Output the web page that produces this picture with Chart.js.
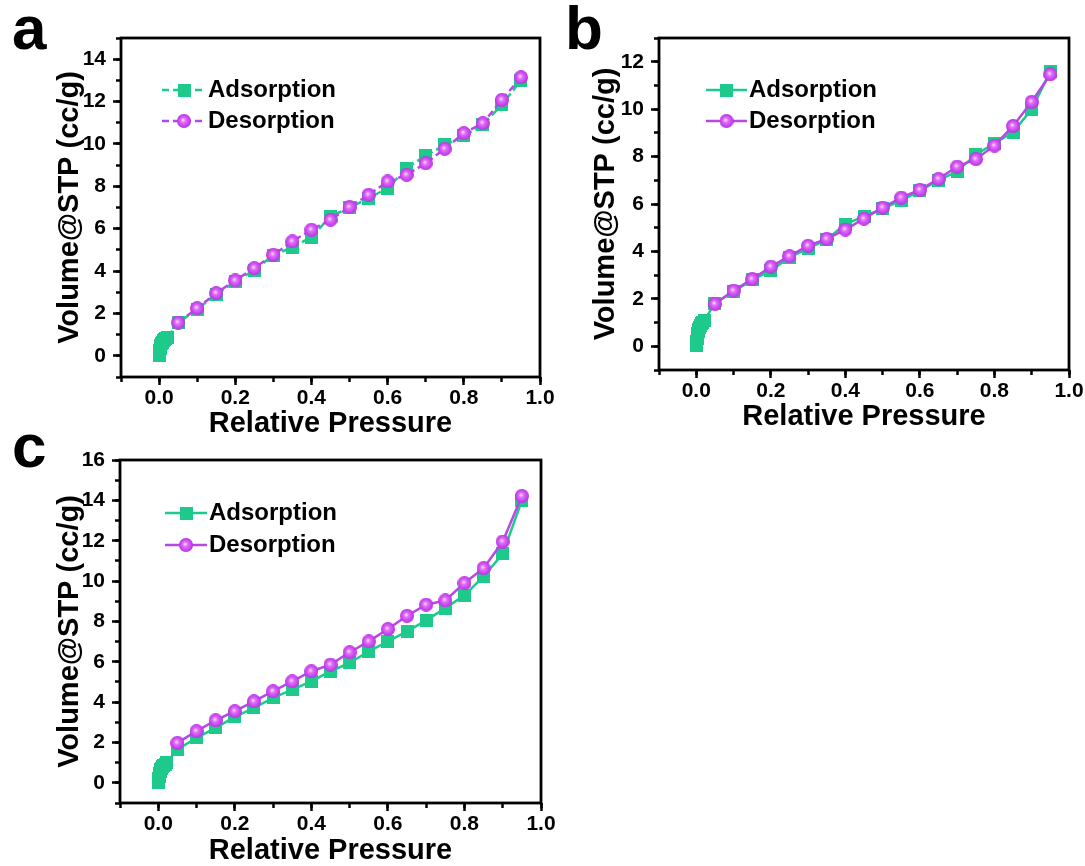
<!DOCTYPE html>
<html>
<head>
<meta charset="utf-8">
<title>N2 isotherms</title>
<script src="https://cdn.jsdelivr.net/npm/chart.js@4.4.1/dist/chart.umd.min.js"></script>
<style>
  body { margin: 0; background: #fff; }
  #wrap { position: relative; width: 1085px; height: 866px; overflow: hidden; }
  canvas { position: absolute; }
  .tag { position: absolute; font: bold 62px "Liberation Sans", Arial, sans-serif; line-height: 62px; color: #000; }
</style>
</head>
<body>
<div id="wrap">
  <canvas id="chartA" width="560" height="445" style="left:0;top:0"></canvas>
  <canvas id="chartB" width="525" height="445" style="left:560px;top:0"></canvas>
  <canvas id="chartC" width="560" height="436" style="left:0;top:430px"></canvas>
  <div class="tag" style="left:12px;top:-3px">a</div>
  <div class="tag" style="left:565px;top:-3px">b</div>
  <div class="tag" style="left:12px;top:415px">c</div>
</div>
<script>
// relative pressure P/P0 - the low range is only measured on adsorption
const pLow = [0.0005, 0.001, 0.0015, 0.002, 0.003, 0.004, 0.005, 0.007, 0.009, 0.011, 0.014, 0.018, 0.022];
const pHigh = [0.05, 0.10, 0.15, 0.20, 0.25, 0.30, 0.35, 0.40, 0.45, 0.50,
               0.55, 0.60, 0.65, 0.70, 0.75, 0.80, 0.85, 0.90, 0.95];

// volume @ STP (cc/g)
const adsLowA = [0.02, 0.10, 0.18, 0.26, 0.34, 0.42, 0.50, 0.57, 0.64, 0.70, 0.76, 0.82, 0.88];
const adsA = [1.55, 2.20, 2.90, 3.50, 4.05, 4.75, 5.13, 5.60, 6.58, 7.00, 7.44, 7.91, 8.86, 9.45, 9.95, 10.38, 10.90, 11.85, 13.00];
const desA = [1.57, 2.25, 2.96, 3.56, 4.14, 4.77, 5.40, 5.95, 6.42, 7.02, 7.60, 8.23, 8.54, 9.09, 9.77, 10.51, 10.98, 12.08, 13.15];

const adsLowB = [0.02, 0.12, 0.22, 0.32, 0.42, 0.52, 0.62, 0.70, 0.78, 0.86, 0.94, 1.02, 1.10];
const adsB = [1.82, 2.30, 2.80, 3.19, 3.75, 4.13, 4.50, 5.15, 5.48, 5.80, 6.15, 6.55, 7.00, 7.38, 8.08, 8.56, 9.02, 10.00, 11.58];
const desB = [1.79, 2.35, 2.83, 3.36, 3.80, 4.24, 4.53, 4.92, 5.38, 5.85, 6.27, 6.60, 7.06, 7.58, 7.89, 8.46, 9.29, 10.31, 11.47];

const adsLowC = [0.02, 0.11, 0.20, 0.29, 0.38, 0.47, 0.56, 0.64, 0.72, 0.80, 0.87, 0.93, 1.00];
const adsC = [1.65, 2.23, 2.72, 3.27, 3.71, 4.21, 4.62, 5.03, 5.53, 5.94, 6.52, 7.01, 7.51, 8.05, 8.66, 9.29, 10.23, 11.35, 13.99];
const desC = [1.98, 2.56, 3.10, 3.55, 4.04, 4.54, 5.03, 5.53, 5.86, 6.47, 7.01, 7.62, 8.28, 8.83, 9.04, 9.90, 10.64, 11.96, 14.22];

// tick labels
const xTicks = [0, 0.2, 0.4, 0.6, 0.8, 1.0];
const xMinorTicks = [-0.1, 0, 0.1, 0.2, 0.3, 0.4, 0.5, 0.6, 0.7, 0.8, 0.9, 1.0];
const yTicksA = [0, 2, 4, 6, 8, 10, 12, 14];
const yTicksB = [0, 2, 4, 6, 8, 10, 12];
const yTicksC = [0, 2, 4, 6, 8, 10, 12, 14, 16];

const xTitle = 'Relative Pressure';
const yTitle = 'Volume@STP (cc/g)';
const seriesNames = ['Adsorption', 'Desorption'];

const GREEN = '#1ec98c';
const PURPLE_LINE = '#b648e6';

Chart.defaults.font.family = '"Liberation Sans", Arial, sans-serif';
Chart.defaults.color = '#000';

// filled square for adsorption
function squareMark(size) {
    const c = document.createElement('canvas');
    c.width = c.height = size;
    const g = c.getContext('2d');
    g.fillStyle = GREEN;
    g.fillRect(0, 0, size, size);
    return c;
}

// shaded ball for desorption
function sphereMark(size) {
    const c = document.createElement('canvas');
    c.width = c.height = size;
    const g = c.getContext('2d');
    const r = size / 2;
    const grad = g.createRadialGradient(r * 0.85, r * 0.85, 0, r, r, r);
    grad.addColorStop(0, '#ffe8ff');
    grad.addColorStop(0.35, '#e06ef8');
    grad.addColorStop(1, '#b92ee6');
    g.fillStyle = grad;
    g.beginPath();
    g.arc(r, r, r, 0, Math.PI * 2);
    g.fill();
    return c;
}

const sq = squareMark(13);
const ball = sphereMark(14);

// box round the plot area
const framePlugin = {
    id: 'frame',
    afterDraw(chart) {
        const { ctx, chartArea: a } = chart;
        ctx.save();
        ctx.strokeStyle = '#000';
        ctx.lineWidth = 2.8;
        ctx.strokeRect(a.left, a.top, a.right - a.left, a.bottom - a.top);
        ctx.restore();
    }
};

// legend inside the plot, line with the marker on it
const insideLegend = {
    id: 'insideLegend',
    afterDraw(chart, args, opts) {
        const ctx = chart.ctx;
        chart.data.datasets.forEach((ds, i) => {
            const y = opts.rows[i];
            ctx.save();
            ctx.strokeStyle = ds.borderColor;
            ctx.lineWidth = ds.borderWidth;
            ctx.setLineDash(ds.borderDash || []);
            ctx.beginPath();
            ctx.moveTo(opts.x0, y);
            ctx.lineTo(opts.x1, y);
            ctx.stroke();
            const img = ds.pointStyle;
            ctx.drawImage(img, (opts.x0 + opts.x1) / 2 - img.width / 2, y - img.height / 2);
            ctx.fillStyle = '#000';
            ctx.font = 'bold 24px "Liberation Sans", Arial, sans-serif';
            ctx.textBaseline = 'middle';
            ctx.fillText(ds.label, opts.x1 + 2, y);
            ctx.restore();
        });
    }
};

const tickFont = { size: 21, weight: 'bold' };
const titleFont = { size: 29, weight: 'bold', lineHeight: 1 };

function makePanel(id, adsLow, ads, des, yTicks, yMax, o) {
    const adsPts = pLow.concat(pHigh).map((p, i) => ({ x: p, y: adsLow.concat(ads)[i] }));
    const desPts = pHigh.map((p, i) => ({ x: p, y: des[i] }));
    const dash = o.dashed ? [7, 4] : [];
    const yMinor = [];
    for (let v = -1; v <= yMax; v++) yMinor.push(v);

    new Chart(document.getElementById(id), {
        type: 'line',
        data: {
            datasets: [{
                label: seriesNames[0],
                data: adsPts,
                borderColor: GREEN,
                borderWidth: 2.5,
                borderDash: dash,
                pointStyle: sq,
                pointRadius: 6,
                order: 1,
                tension: 0
            }, {
                label: seriesNames[1],
                data: desPts,
                borderColor: PURPLE_LINE,
                borderWidth: 2.5,
                borderDash: dash,
                pointStyle: ball,
                pointRadius: 6,
                order: 0,
                tension: 0
            }]
        },
        options: {
            responsive: false,
            animation: false,
            events: [],
            layout: { padding: { left: 0, top: o.top, right: o.right, bottom: 0 } },
            plugins: {
                legend: { display: false },
                tooltip: { enabled: false },
                insideLegend: o.legend
            },
            scales: {
                x: {
                    type: 'linear', position: 'bottom', min: -0.1, max: 1.0, weight: 1,
                    afterBuildTicks: s => { s.ticks = xTicks.map(v => ({ value: v })); },
                    afterFit: s => { s.height = o.xHeight; },
                    grid: { drawOnChartArea: false, tickLength: 8, tickWidth: 2.5, tickColor: '#000' },
                    border: { display: false },
                    ticks: { padding: 1, font: tickFont, color: '#000', maxRotation: 0, autoSkip: false,
                             callback: v => v.toFixed(1) },
                    title: { display: true, text: xTitle, font: titleFont, color: '#000',
                             padding: { top: 0, bottom: o.xTitlePad } }
                },
                xMinor: {
                    type: 'linear', position: 'bottom', min: -0.1, max: 1.0, weight: 0,
                    afterBuildTicks: s => { s.ticks = xMinorTicks.map(v => ({ value: v })); },
                    afterFit: s => { s.height = 0; },
                    grid: { drawOnChartArea: false, tickLength: 5, tickWidth: 2.5, tickColor: '#000' },
                    border: { display: false },
                    ticks: { display: false }
                },
                y: {
                    type: 'linear', position: 'left', min: -1, max: yMax, weight: 1,
                    afterBuildTicks: s => { s.ticks = yTicks.map(v => ({ value: v })); },
                    afterFit: s => { s.width = o.yWidth; },
                    grid: { drawOnChartArea: false, tickLength: 8, tickWidth: 2.5, tickColor: '#000' },
                    border: { display: false },
                    ticks: { padding: 7, font: tickFont, color: '#000', autoSkip: false },
                    title: { display: true, text: yTitle, font: titleFont, color: '#000',
                             padding: { top: o.yTitlePad, bottom: 0 } }
                },
                yMinor: {
                    type: 'linear', position: 'left', min: -1, max: yMax, weight: 0,
                    afterBuildTicks: s => { s.ticks = yMinor.map(v => ({ value: v })); },
                    afterFit: s => { s.width = 0; },
                    grid: { drawOnChartArea: false, tickLength: 5, tickWidth: 2.5, tickColor: '#000' },
                    border: { display: false },
                    ticks: { display: false }
                }
            }
        },
        plugins: [framePlugin, insideLegend]
    });
}

makePanel('chartA', adsLowA, adsA, desA, yTicksA, 15, {
    dashed: true, top: 38, right: 20, yWidth: 121, xHeight: 68, xTitlePad: 7, yTitlePad: 55.5,
    legend: { x0: 162, x1: 206, rows: [90, 121] }
});
makePanel('chartB', adsLowB, adsB, desB, yTicksB, 13, {
    dashed: false, top: 38, right: 16, yWidth: 99, xHeight: 75, xTitlePad: 14, yTitlePad: 31,
    legend: { x0: 146, x1: 187, rows: [90, 121] }
});
makePanel('chartC', adsLowC, adsC, desC, yTicksC, 16, {
    dashed: false, top: 30, right: 19, yWidth: 120, xHeight: 63, xTitlePad: 0.5, yTitlePad: 55.5,
    legend: { x0: 165, x1: 207, rows: [83, 115] }
});
</script>
</body>
</html>
